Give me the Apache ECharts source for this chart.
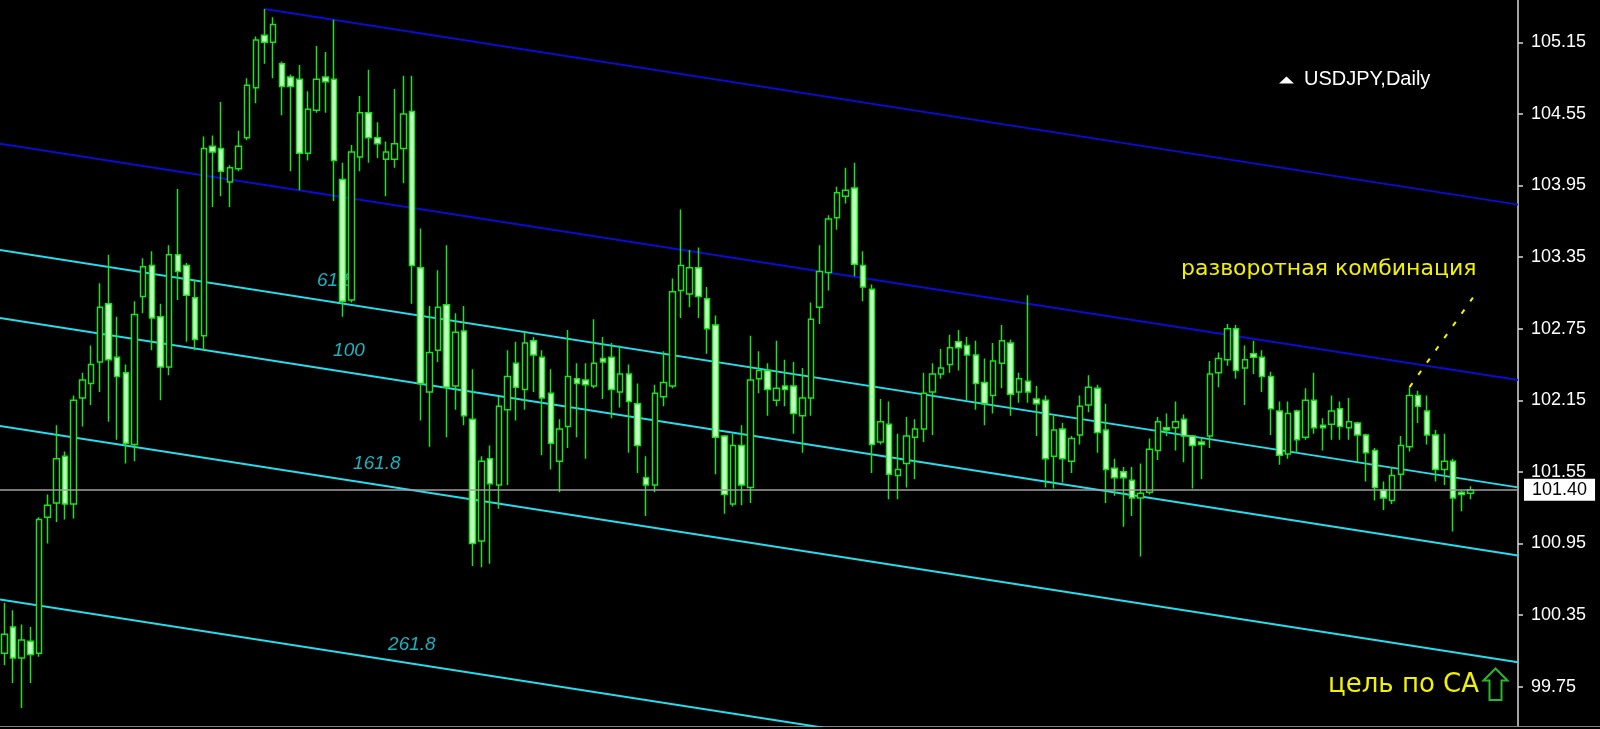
<!DOCTYPE html>
<html><head><meta charset="utf-8">
<script src="https://cdn.jsdelivr.net/npm/echarts@6/dist/echarts.min.js"></script>
<style>html,body{margin:0;padding:0;background:#000;}#c{width:1600px;height:729px;}</style>
</head><body><div id="c"></div>
<script>
// ---- candle data (USDJPY Daily), index 0..169 ----
const openP = [100.03,100.25,99.99,100.13,100.03,101.17,101.29,101.68,101.28,102.17,
102.29,102.47,102.96,102.51,102.38,101.78,103.02,103.28,102.85,102.43,
103.37,103.28,103.01,102.69,104.28,104.26,103.98,104.09,104.35,104.77,
105.21,105.15,104.97,104.86,104.84,104.22,104.58,104.86,104.84,104.00,
102.99,104.19,104.56,104.35,104.17,104.17,104.26,104.57,103.26,102.22,
102.57,102.95,102.27,102.73,101.99,100.97,101.66,101.44,102.07,102.46,
102.24,102.65,102.51,102.21,101.64,101.93,102.33,102.32,102.27,102.50,
102.51,102.22,102.37,102.12,101.50,101.44,102.18,102.27,103.07,103.04,
103.26,103.00,102.78,101.85,101.28,101.77,101.42,102.33,102.40,102.15,
102.27,102.27,102.02,102.17,102.93,103.22,103.68,103.86,103.93,103.28,
103.08,101.80,101.95,101.52,101.62,101.84,101.91,102.22,102.37,102.45,
102.64,102.61,102.53,102.30,102.19,102.46,102.63,102.22,102.31,102.16,
102.15,101.68,101.91,101.64,101.86,102.11,102.25,101.90,101.58,101.55,
101.48,101.33,101.38,101.73,101.92,101.92,101.99,101.85,101.80,101.85,
102.38,102.49,102.75,102.42,102.54,102.51,102.35,102.06,101.70,102.06,
101.84,102.15,101.94,101.95,102.08,101.92,101.96,101.86,101.73,101.40,
101.31,101.53,101.76,102.19,102.06,101.86,101.57,101.64,101.38,101.37];
const highP = [100.45,100.39,100.27,100.25,101.17,101.36,101.94,101.72,102.19,102.38,
102.61,103.13,103.37,102.85,102.45,102.98,103.34,103.40,102.96,103.45,
103.92,103.30,103.16,104.36,104.37,104.65,104.12,104.41,104.85,105.20,
105.43,105.36,104.99,104.88,104.96,104.74,105.12,105.07,105.34,104.14,
104.29,104.70,104.92,104.48,104.32,104.76,104.87,104.87,103.59,102.94,
103.24,103.45,102.88,102.94,102.41,101.68,101.77,102.18,102.57,102.64,
102.72,102.68,102.57,102.41,101.99,102.74,102.46,102.46,102.83,102.68,
102.63,102.61,102.45,102.29,101.68,102.28,102.56,103.17,103.75,103.41,
103.43,103.10,102.86,101.86,101.87,101.94,102.69,102.56,102.46,102.65,
102.49,102.47,102.42,102.97,103.45,103.70,103.94,104.10,104.14,103.40,
103.12,102.16,102.14,101.87,102.01,101.99,102.38,102.46,102.58,102.70,
102.74,102.68,102.65,102.50,102.63,102.78,102.66,102.38,103.03,102.27,
102.19,102.02,101.96,101.85,102.19,102.36,102.28,102.12,101.66,101.59,
101.59,101.62,101.83,102.01,102.04,102.14,102.03,101.86,101.84,102.48,
102.55,102.79,102.78,102.61,102.65,102.57,102.39,102.14,102.14,102.07,
102.25,102.38,102.00,102.19,102.14,102.17,101.97,101.87,101.75,101.47,
101.59,101.85,102.26,102.23,102.19,101.90,101.87,101.66,101.39,101.43];
const lowP = [99.93,99.78,99.57,99.78,100.00,100.95,101.13,101.15,101.16,101.93,
102.11,102.22,101.97,101.82,101.62,101.64,102.88,102.57,102.15,102.36,
102.99,102.64,102.57,102.57,103.77,103.86,103.77,104.07,104.33,104.64,
104.97,104.85,104.54,104.07,103.91,104.16,104.56,104.56,103.82,102.85,
102.97,104.07,104.14,104.18,103.86,104.10,103.97,102.96,101.98,101.76,
102.47,101.84,102.07,101.94,100.76,100.75,100.78,101.24,101.44,101.98,
102.07,102.22,101.69,101.57,101.38,101.75,101.84,101.66,102.25,102.16,
102.00,102.09,101.71,101.54,101.18,101.38,102.10,102.25,102.84,102.93,
102.84,102.54,101.53,101.20,101.26,101.27,101.29,102.21,102.02,102.10,
102.10,101.87,101.71,102.02,102.79,103.07,103.58,103.80,103.19,102.98,
101.54,101.78,101.32,101.32,101.42,101.49,101.80,101.86,102.33,102.38,
102.40,102.15,102.07,101.94,102.04,102.25,102.02,102.13,102.13,101.85,
101.42,101.41,101.46,101.54,101.78,102.05,101.71,101.29,101.35,101.09,
101.18,100.84,101.36,101.65,101.85,101.73,101.63,101.41,101.49,101.75,
102.26,102.44,102.33,102.11,102.37,102.22,101.86,101.61,101.66,101.71,
101.82,101.87,101.73,101.82,101.82,101.82,101.63,101.47,101.31,101.23,
101.28,101.40,101.72,101.96,101.78,101.47,101.44,101.05,101.22,101.32];
const closeP = [100.19,99.99,100.14,100.02,101.15,101.27,101.66,101.28,102.15,102.32,
102.45,102.93,102.49,102.35,101.79,102.87,103.27,102.84,102.43,103.37,
103.23,103.03,102.66,104.26,104.23,104.07,104.10,104.28,104.79,105.17,
105.15,105.30,104.78,104.78,104.22,104.59,104.84,104.82,104.16,102.98,
104.23,104.56,104.35,104.30,104.23,104.30,104.55,103.28,102.29,102.55,
102.93,102.26,102.72,102.02,100.95,101.64,101.45,102.10,102.35,102.26,
102.63,102.53,102.17,101.79,101.91,102.35,102.29,102.28,102.46,102.47,
102.24,102.37,102.14,101.77,101.44,102.21,102.30,103.06,103.28,103.26,
103.02,102.75,101.84,101.36,101.77,101.44,102.32,102.40,102.24,102.25,
102.24,102.04,102.17,102.83,103.23,103.67,103.89,103.91,103.29,103.10,
101.78,101.97,101.53,101.57,101.85,101.91,102.21,102.37,102.42,102.59,
102.59,102.53,102.29,102.12,102.48,102.65,102.20,102.33,102.22,102.12,
101.66,101.90,101.66,101.83,102.10,102.26,101.88,101.57,101.50,101.50,
101.33,101.37,101.74,101.97,101.90,101.97,101.85,101.77,101.78,102.37,
102.50,102.75,102.40,102.49,102.51,102.35,102.08,101.69,102.04,101.82,
102.15,101.92,101.92,102.06,101.93,101.97,101.86,101.71,101.42,101.33,
101.52,101.77,102.19,102.10,101.86,101.57,101.64,101.33,101.36,101.40];
const emptySlots = 5; // chart shift space on the right
const categories = openP.map((_, i) => 'D' + (i + 1)).concat(Array(emptySlots).fill(''));
const priceTicks = [99.75,100.35,100.95,101.55,102.15,102.75,103.35,103.95,104.55,105.15];
const lastPrice = 101.40;

// ---- channel / Fibonacci lines (bar index, price) ----
const channelTop = [[30, 105.43], [174.5, 103.79]];
const channelBase = [[-0.5, 104.30], [174.5, 102.32]];
const fib618 = [[-0.5, 103.41], [174.5, 101.42]];
const fib100 = [[-0.5, 102.84], [174.5, 100.85]];
const fib1618 = [[-0.5, 101.935], [174.5, 99.955]];
const fib2618 = [[-0.5, 100.48], [174.5, 98.50]];
const fibLabels = [['61.8', 36.1, 103.074], ['100', 37.96, 102.487], ['161.8', 40.26, 101.54], ['261.8', 44.3, 100.03]];
const signalLine = [[162, 102.26], [169.3, 103.01]];

const candleData = openP.map((o, i) => [o, closeP[i], lowP[i], highP[i]]);

const GREEN = '#1fe01f', CYAN = '#26dcec', BLUE = '#0c0cd0', YELLOW = '#f2f200';
function lineSeries(data, color, extra) {
  return Object.assign({
    type: 'line', xAxisIndex: 1, yAxisIndex: 0, data: data, symbol: 'none', silent: true,
    z: 1, lineStyle: { color: color, width: 2 }, animation: false
  }, extra || {});
}

const chart = echarts.init(document.getElementById('c'), null, { renderer: 'canvas' });
chart.setOption({
  backgroundColor: '#000',
  animation: false,
  grid: { left: -1, right: 82, top: 0, bottom: 3, containLabel: false },
  xAxis: [
    { type: 'category', data: categories, boundaryGap: true,
      axisLine: { show: true, onZero: false, lineStyle: { color: '#808080', width: 1 } },
      axisTick: { show: false }, axisLabel: { show: false }, splitLine: { show: false } },
    { type: 'value', min: -0.5, max: 174.5, show: false, axisLine: { onZero: false } }
  ],
  yAxis: [{
    type: 'value', position: 'right', min: 99.42, max: 105.505,
    splitLine: { show: false },
    axisLine: { show: true, onZero: false, lineStyle: { color: '#d8d8d8', width: 1.5 } },
    axisTick: { show: true, length: 5, customValues: priceTicks, lineStyle: { color: '#d8d8d8', width: 1.5 } },
    axisLabel: { customValues: priceTicks, color: '#ffffff', fontFamily: 'Liberation Sans', fontSize: 18, margin: 13,
      formatter: v => Number(v).toFixed(2) }
  }],
  series: [
    lineSeries(channelTop, BLUE),
    lineSeries(channelBase, BLUE),
    lineSeries(fib618, CYAN),
    lineSeries(fib100, CYAN),
    lineSeries(fib1618, CYAN),
    lineSeries(fib2618, CYAN),
    lineSeries(signalLine, YELLOW, { z: 4, lineStyle: { color: YELLOW, width: 2, type: [5, 10] } }),
    {
      type: 'scatter', xAxisIndex: 1, yAxisIndex: 0, symbolSize: 1, silent: true, z: 1,
      itemStyle: { color: 'rgba(0,0,0,0)' },
      data: fibLabels.map(([t, i, p]) => ({ name: t, value: [i, p] })),
      label: { show: true, position: 'insideBottomLeft', distance: 0, formatter: '{b}', color: CYAN,
        fontFamily: 'Liberation Sans', fontStyle: 'italic', fontSize: 19 }
    },
    {
      type: 'line', xAxisIndex: 0, yAxisIndex: 0, data: [], z: 1, silent: true,
      markLine: {
        symbol: 'none', silent: true, animation: false,
        data: [{ yAxis: lastPrice }],
        lineStyle: { color: '#a0a0a0', width: 1.5, type: 'solid' },
        label: { show: true, position: 'end', distance: 6, formatter: lastPrice.toFixed(2),
          backgroundColor: '#ffffff', color: '#000000', fontFamily: 'Liberation Sans', fontSize: 18,
          padding: [2, 8, 2, 8] }
      }
    },
    {
      type: 'candlestick', xAxisIndex: 0, yAxisIndex: 0, data: candleData, z: 3, barWidth: 6,
      itemStyle: { color: '#000000', color0: '#c4ffc4', borderColor: GREEN, borderColor0: GREEN, borderWidth: 1.5 }
    }
  ],
  graphic: [
    { type: 'polygon', shape: { points: [[1279, 83.5], [1294, 83.5], [1286.5, 76.5]] }, style: { fill: '#ffffff' } },
    { type: 'text', x: 1304, y: 79, style: { text: 'USDJPY,Daily', fill: '#ffffff', font: '20px "Liberation Sans"', textVerticalAlign: 'middle' } },
    { type: 'text', x: 1181, y: 269, style: { text: 'разворотная комбинация', fill: YELLOW, font: '22px "DejaVu Sans"', textVerticalAlign: 'middle' } },
    { type: 'text', x: 1328, y: 685, style: { text: 'цель по СА', fill: YELLOW, font: '26px "DejaVu Sans"', textVerticalAlign: 'middle' } },
    { type: 'polygon', shape: { points: [[1495.5, 668.5], [1507.5, 680.5], [1501.5, 680.5], [1501.5, 700], [1489.5, 700], [1489.5, 680.5], [1483.5, 680.5]] },
      style: { fill: 'none', stroke: '#2db52d', lineWidth: 2 } },
    { type: 'line', shape: { x1: 0, y1: 726.5, x2: 1600, y2: 726.5 }, style: { stroke: '#808080', lineWidth: 1 } }
  ]
});
</script></body></html>
